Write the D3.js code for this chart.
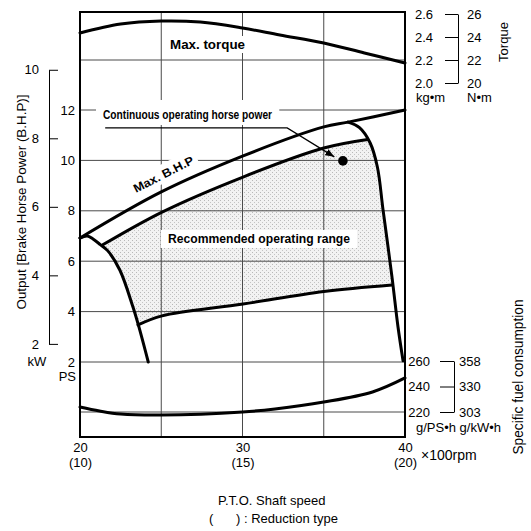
<!DOCTYPE html>
<html>
<head>
<meta charset="utf-8">
<script src="https://cdn.jsdelivr.net/npm/d3@7"></script>
<style>
  body { margin: 0; background: #fff; }
  svg { display: block; font-family: "Liberation Sans", Arial, sans-serif; }
</style>
</head>
<body>
<svg></svg>
<script>
// axis ticks / labels
const rpmTicks = [20, 30, 40];
const rpmReduction = ['(10)', '(15)', '(20)'];
const gridRpm = [25, 30, 35];
const psTicks = [2, 4, 6, 8, 10, 12];
const kwTicks = [2, 4, 6, 8, 10];
const torqueTicks = [2.0, 2.2, 2.4, 2.6];
const torqueNm = ['20', '22', '24', '26'];
const fuelTicks = [220, 240, 260];
const fuelKw = ['303', '330', '358'];
const gridTorque = [2.2];
const gridFuel = [220];

// curves (x = rpm/100, y in PS, kg.m or g/PS.h)
const torqueRpm = [20, 22.5, 25, 27.4, 30, 32.3, 35, 37.5, 40];
const torqueKgm = [2.435, 2.513, 2.539, 2.53, 2.478, 2.417, 2.348, 2.261, 2.174];

const maxBhpRpm = [20, 25, 30, 35, 36.5, 40];
const maxBhpPs = [6.92, 8.75, 10.17, 11.33, 11.52, 12.0];

const leftGovRpm = [20, 20.45, 20.8, 21.25, 21.7, 22.45, 23.25, 23.6, 24.2];
const leftGovPs = [6.92, 7.0, 6.88, 6.66, 6.42, 5.65, 4.2, 3.45, 2.0];

const rightGovRpm = [36.5, 37.2, 37.85, 38.3, 38.65, 39.2, 39.57, 39.88];
const rightGovPs = [11.52, 11.3, 10.7, 9.74, 8.03, 5.37, 3.39, 2.05];

const contRpm = [21.4, 25.05, 30.03, 35.0, 37.7];
const contPs = [6.65, 7.95, 9.34, 10.49, 10.83];

const edgeRpm = [37.7, 37.97, 38.46, 38.89, 39.2];
const edgePs = [10.83, 10.49, 8.43, 6.44, 5.06];

const lowerRpm = [23.57, 25.05, 30.03, 35.0, 39.2];
const lowerPs = [3.47, 3.83, 4.3, 4.8, 5.06];

const leftEdgeRpm = [23.57, 23.25, 22.45, 21.7, 21.4];
const leftEdgePs = [3.47, 4.2, 5.65, 6.42, 6.65];

const fuelRpm = [20, 21.2, 22.5, 25, 30, 32, 35, 38, 40];
const fuelGps = [223.9, 220.8, 218.4, 217.6, 220, 222.4, 227.8, 235.7, 246.7];

const contPoint = [36.18, 9.98];
const leaderRpm = [21.55, 32.75, 35.65];
const leaderPs = [11.29, 11.29, 10.14];

const width = 531;
const height = 531;
const plotLeft = 80, plotRight = 405, plotTop = 12, plotBottom = 437;

const svg = d3.select('svg').attr('width', width).attr('height', height);

const x = d3.scaleLinear().domain([20, 40]).range([plotLeft, plotRight]);
const yPs = d3.scaleLinear().domain([2, 12]).range([362, 110]);
const yKw = d3.scaleLinear().domain([2, 10]).range([yPs(2 / 0.7355), yPs(10 / 0.7355)]);
const yTq = d3.scaleLinear().domain([2.0, 2.6]).range([83, 14]);
const yFuel = d3.scaleLinear().domain([220, 260]).range([412, 361]);

const curve = d3.curveCatmullRom.alpha(0.5);
const lineOf = (yScale) => d3.line().x(d => x(d[0])).y(d => yScale(d[1])).curve(curve);
const psLine = lineOf(yPs);

const defs = svg.append('defs');
const pat = defs.append('pattern').attr('id', 'dots')
    .attr('width', 4).attr('height', 4).attr('patternUnits', 'userSpaceOnUse');
pat.append('rect').attr('width', 4).attr('height', 4).attr('fill', '#f2f2f2');
pat.append('rect').attr('width', 1).attr('height', 1).attr('fill', '#b8b8b8');
pat.append('rect').attr('x', 2).attr('y', 2).attr('width', 1).attr('height', 1).attr('fill', '#c4c4c4');

defs.append('marker').attr('id', 'arrow')
    .attr('markerUnits', 'userSpaceOnUse')
    .attr('markerWidth', 9).attr('markerHeight', 7)
    .attr('refX', 9).attr('refY', 3.5).attr('orient', 'auto')
    .append('path').attr('d', 'M0,0 L9,3.5 L0,7 Z').attr('fill', '#000');

const generateShading = () => {
    const d = psLine(d3.zip(contRpm, contPs))
        + psLine(d3.zip(edgeRpm, edgePs)).replace(/^M/, 'L')
        + psLine(d3.zip(lowerRpm, lowerPs).reverse()).replace(/^M/, 'L')
        + psLine(d3.zip(leftEdgeRpm, leftEdgePs).slice(1)).replace(/^M/, 'L')
        + 'Z';
    svg.append('path').attr('d', d).attr('fill', 'url(#dots)');
};

const generateGrid = () => {
    const g = svg.append('g').attr('stroke', '#4a4a4a').attr('stroke-width', 1);
    g.selectAll('.vg').data(gridRpm).enter().append('line')
     .attr('x1', d => x(d)).attr('x2', d => x(d))
     .attr('y1', plotTop).attr('y2', plotBottom);
    const hs = psTicks.map(yPs)
        .concat(gridTorque.map(yTq))
        .concat(gridFuel.map(yFuel));
    g.selectAll('.hg').data(hs).enter().append('line')
     .attr('x1', plotLeft).attr('x2', plotRight)
     .attr('y1', d => d).attr('y2', d => d);
};

const boxedLabel = (parent, txt, opts) => {
    const g = parent.append('g').attr('transform', opts.transform);
    const rect = g.append('rect').attr('fill', '#fff');
    const t = g.append('text')
        .attr('font-weight', 'bold')
        .attr('font-size', opts.size)
        .attr('textLength', opts.len)
        .attr('lengthAdjust', 'spacingAndGlyphs')
        .text(txt);
    const b = t.node().getBBox();
    rect.attr('x', b.x - opts.padX).attr('y', b.y - opts.padTop)
        .attr('width', b.width + opts.padX * 2)
        .attr('height', b.height + opts.padTop + opts.padBottom);
    return g;
};

const generateLabelBoxes = () => {
    const g = svg.append('g');
    boxedLabel(g, 'Max. torque', { transform: 'translate(170,49)', size: 13, len: 75, padX: 3, padTop: 1, padBottom: 1 });
    boxedLabel(g, 'Continuous operating horse power', { transform: 'translate(103,119)', size: 12, len: 169, padX: 7, padTop: 8, padBottom: 3 });
    boxedLabel(g, 'Recommended operating range', { transform: 'translate(168,243)', size: 13, len: 182, padX: 7, padTop: 1, padBottom: 2 });
    boxedLabel(g, 'Max. B.H.P', { transform: 'translate(136,193) rotate(-27)', size: 12, len: 66, padX: 4, padTop: 3, padBottom: 1 });
};

const generateCurves = () => {
    const g = svg.append('g').attr('fill', 'none').attr('stroke', '#000')
        .attr('stroke-width', 3).attr('stroke-linejoin', 'round').attr('stroke-linecap', 'round');
    g.append('path').attr('d', lineOf(yTq)(d3.zip(torqueRpm, torqueKgm)));
    g.append('path').attr('d', psLine(d3.zip(maxBhpRpm, maxBhpPs)));
    g.append('path').attr('d', psLine(d3.zip(leftGovRpm, leftGovPs)));
    g.append('path').attr('d', psLine(d3.zip(rightGovRpm, rightGovPs)));
    g.append('path').attr('d', psLine(d3.zip(contRpm, contPs)));
    g.append('path').attr('d', psLine(d3.zip(lowerRpm, lowerPs)));
    g.append('path').attr('d', lineOf(yFuel)(d3.zip(fuelRpm, fuelGps)));

    svg.append('path')
       .attr('d', d3.line().x(d => x(d[0])).y(d => yPs(d[1]))(d3.zip(leaderRpm, leaderPs)))
       .attr('fill', 'none').attr('stroke', '#000').attr('stroke-width', 1.2)
       .attr('marker-end', 'url(#arrow)');
    svg.append('circle')
       .attr('cx', x(contPoint[0])).attr('cy', yPs(contPoint[1]))
       .attr('r', 4.8).attr('fill', '#000');
};

const generateFrame = () => {
    svg.append('rect').attr('x', plotLeft).attr('y', plotTop)
       .attr('width', plotRight - plotLeft).attr('height', plotBottom - plotTop)
       .attr('fill', 'none').attr('stroke', '#000').attr('stroke-width', 2);
};

const styleAxis = (g) => {
    g.attr('font-family', null).attr('font-size', 13);
    g.selectAll('text').attr('fill', '#000');
    g.selectAll('line, path').attr('stroke', '#000');
};

const generateAxes = () => {
    // kW
    svg.append('g').attr('transform', 'translate(49,0)')
       .call(d3.axisLeft(yKw).tickValues(kwTicks).tickSizeInner(-9).tickSizeOuter(0).tickPadding(10))
       .call(styleAxis);
    // PS
    svg.append('g').attr('transform', 'translate(' + plotLeft + ',0)')
       .call(d3.axisLeft(yPs).tickValues(psTicks).tickSize(0).tickPadding(5))
       .call(styleAxis)
       .call(g => g.select('.domain').remove());
    // torque
    svg.append('g').attr('transform', 'translate(458,0)')
       .call(d3.axisLeft(yTq).tickValues(torqueTicks).tickFormat(d3.format('.1f'))
            .tickSizeInner(13).tickSizeOuter(0).tickPadding(12))
       .call(styleAxis);
    svg.append('g').attr('transform', 'translate(458,0)')
       .call(d3.axisRight(yTq).tickValues(torqueTicks).tickFormat((d, i) => torqueNm[i])
            .tickSize(0).tickPadding(9))
       .call(styleAxis)
       .call(g => g.select('.domain').remove());
    // fuel
    svg.append('g').attr('transform', 'translate(454,0)')
       .call(d3.axisLeft(yFuel).tickValues(fuelTicks)
            .tickSizeInner(14).tickSizeOuter(0).tickPadding(10))
       .call(styleAxis);
    svg.append('g').attr('transform', 'translate(454,0)')
       .call(d3.axisRight(yFuel).tickValues(fuelTicks).tickFormat((d, i) => fuelKw[i])
            .tickSize(0).tickPadding(5))
       .call(styleAxis)
       .call(g => g.select('.domain').remove());
    // rpm
    svg.append('g').attr('transform', 'translate(0,' + plotBottom + ')')
       .call(d3.axisBottom(x).tickValues(rpmTicks).tickSize(0).tickPadding(6))
       .call(styleAxis)
       .call(g => g.select('.domain').remove())
       .call(g => g.selectAll('.tick text').each(function (d, i) {
            const t = d3.select(this);
            t.text(null);
            t.append('tspan').attr('x', 0).text(d);
            t.append('tspan').attr('x', 0).attr('dy', '1.1em').text(rpmReduction[i]);
       }));
};

const generateTitles = () => {
    const t = (txt, xx, yy, extra) => {
        const el = svg.append('text').attr('x', xx).attr('y', yy)
            .attr('font-size', 13).text(txt);
        if (extra) extra(el);
        return el;
    };
    t('kW', 37, 366, e => e.attr('text-anchor', 'middle'));
    t('PS', 76, 381, e => e.attr('text-anchor', 'end'));
    t('kg•m', 416, 102);
    t('N•m', 467, 102);
    t('g/PS•h g/kW•h', 416, 432);
    t('×100rpm', 421, 460, e => e.attr('font-size', 14));
    t('P.T.O. Shaft speed', 218, 505);
    t('(', 209, 523);
    t(') : Reduction type', 236, 523);

    svg.append('text').attr('transform', 'translate(26,202) rotate(-90)')
       .attr('text-anchor', 'middle').attr('font-size', 13.5)
       .attr('textLength', 215).attr('lengthAdjust', 'spacingAndGlyphs')
       .text('Output [Brake Horse Power (B.H.P)]');
    svg.append('text').attr('transform', 'translate(508,42) rotate(-90)')
       .attr('text-anchor', 'middle').attr('font-size', 13)
       .text('Torque');
    svg.append('text').attr('transform', 'translate(523,377) rotate(-90)')
       .attr('text-anchor', 'middle').attr('font-size', 14)
       .attr('textLength', 155).attr('lengthAdjust', 'spacingAndGlyphs')
       .text('Specific fuel consumption');
};

generateShading();
generateGrid();
generateLabelBoxes();
generateCurves();
generateFrame();
generateAxes();
generateTitles();
</script>
</body>
</html>
